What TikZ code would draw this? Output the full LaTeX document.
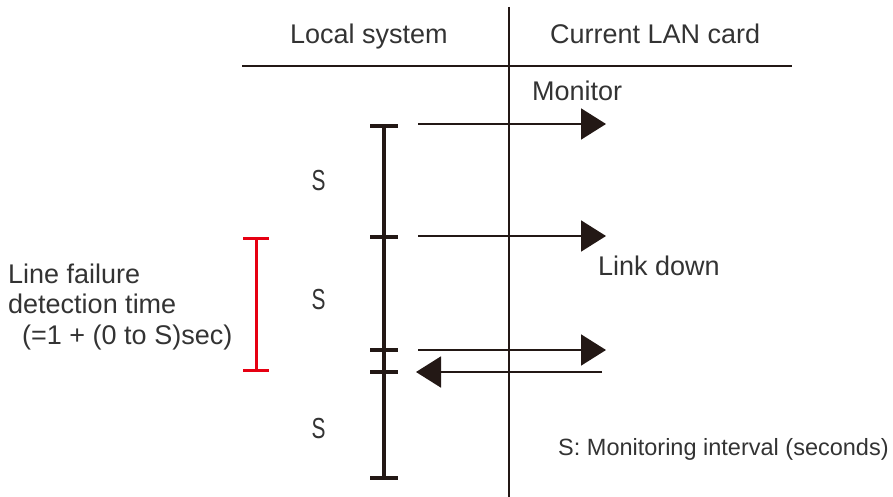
\documentclass[tikz,border=0pt]{standalone}
\usepackage{fontspec}
\setmainfont{Liberation Sans}
\usepackage{graphicx}
\usetikzlibrary{arrows.meta}
\definecolor{ink}{HTML}{231815}
\definecolor{txt}{HTML}{333333}
\definecolor{redbar}{HTML}{E60012}
\begin{document}
\begin{tikzpicture}[x=1pt,y=-1pt,
  lbl/.style={font=\fontsize{27}{32}\selectfont, text=txt, inner sep=0pt, anchor=base west},
  note/.style={font=\fontsize{23.5}{28}\selectfont, text=txt, inner sep=0pt, anchor=base west},
  slbl/.style={font=\fontsize{29}{35}\selectfont, text=txt, inner sep=0pt, anchor=base},
  rule/.style={draw=ink, line width=1.6pt},
  timeline/.style={draw=ink, line width=3.6pt},
  tickmark/.style={draw=ink, line width=3.4pt},
  msg/.style={draw=ink, line width=1.9pt, -{Triangle[length=25pt,width=31pt]}},
  redline/.style={draw=redbar, line width=3pt}]
\useasboundingbox (0,0) rectangle (893,497);

% frame lines
\coordinate (divT) at (509,7);
\coordinate (divB) at (509,497);
\coordinate (hL) at (242,66);
\coordinate (hR) at (792,66);
\draw[rule] (divT) -- (divB);
\draw[rule] (hL) -- (hR);

% headers
\node[lbl] (hdrL) at (290,44) {Local system};
\node[lbl] (hdrR) at (550,44) {Current LAN card};

% timeline
\coordinate (t0) at (384,126);
\coordinate (t1) at (384,237);
\coordinate (t2) at (384,350);
\coordinate (t3) at (384,372);
\coordinate (t4) at (384,478);
\draw[timeline] (t0) -- (t4);
\foreach \t in {t0,t1,t2,t3,t4}
  \draw[tickmark] ([xshift=-14pt]\t) -- ([xshift=14pt]\t);

% interval labels
\node[slbl] (s1) at (318.5,190) {\scalebox{0.72}[1]{S}};
\node[slbl] (s2) at (318.5,309) {\scalebox{0.72}[1]{S}};
\node[slbl] (s3) at (318.5,438) {\scalebox{0.72}[1]{S}};

% messages
\coordinate (a1s) at (418,124); \coordinate (a1e) at (606,124);
\coordinate (a2s) at (418,236); \coordinate (a2e) at (606,236);
\coordinate (a3s) at (418,350); \coordinate (a3e) at (606,350);
\coordinate (a4s) at (602,372); \coordinate (a4e) at (416,372);
\draw[msg] (a1s) -- (a1e);
\draw[msg] (a2s) -- (a2e);
\draw[msg] (a3s) -- (a3e);
\draw[msg] (a4s) -- (a4e);

\node[lbl] (mon) at (532,101) {Monitor};
\node[lbl] (lnk) at (598,275) {Link down};

% red detection bar
\coordinate (r0) at (256,238);
\coordinate (r1) at (256,370);
\draw[redline] (r0) -- (r1);
\draw[redline] ([xshift=-13pt]r0) -- ([xshift=13pt]r0);
\draw[redline] ([xshift=-13pt]r1) -- ([xshift=13pt]r1);

\node[lbl] (lf1) at (8,283) {Line failure};
\node[lbl] (lf2) at (8,313) {detection time};
\node[lbl] (lf3) at (22,344) {(=1 + (0 to S)sec)};

\node[note] (leg) at (558,455) {S: Monitoring interval (seconds)};
\end{tikzpicture}
\end{document}
